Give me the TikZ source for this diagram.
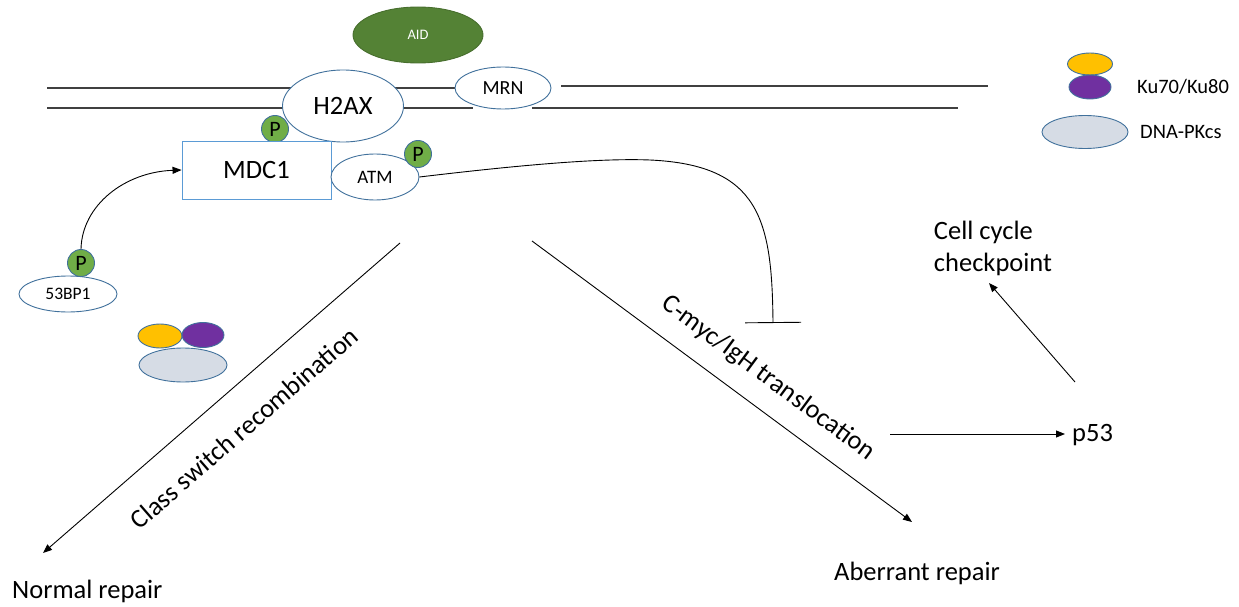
\documentclass[tikz,border=0pt]{standalone}
\usepackage{fontspec}
\setmainfont{Carlito}
\usetikzlibrary{arrows.meta,shapes.geometric}
\definecolor{olblue}{HTML}{41719C}
\definecolor{boxblue}{HTML}{5B9BD5}
\definecolor{aidgreen}{HTML}{548235}
\definecolor{pgreen}{HTML}{70AD47}
\definecolor{kuyellow}{HTML}{FFC000}
\definecolor{kupurple}{HTML}{7030A0}
\definecolor{pkgrey}{HTML}{D6DCE5}
\newcommand\fsz[1]{\fontsize{#1}{#1}\selectfont}
\tikzset{
  prot/.style={ellipse, draw=olblue, line width=0.9pt, fill=white, inner sep=0pt},
  phos/.style={circle, draw=olblue, line width=0.9pt, fill=pgreen, minimum size=27pt, inner sep=0pt, font=\fsz{22}},
  dna/.style={draw=black!75, line width=1.1pt},
  conn/.style={draw=black, line width=0.9pt},
  arr/.style={conn, -{Triangle[length=9pt,width=7pt]}},
  lbl/.style={inner sep=0pt, font=\fsz{26.5}},
}
\begin{document}
\begin{tikzpicture}[x=1pt,y=-1pt]
\useasboundingbox (0,0) rectangle (1239,607);
% DNA strands
\coordinate (u1) at (47,88);
\coordinate (u1e) at (455,88);
\coordinate (u2) at (561,86);
\coordinate (u3) at (988,86);
\coordinate (l1) at (47,108);
\coordinate (l2) at (473,108);
\coordinate (l3) at (532,108);
\coordinate (l4) at (958,108);
\path[dna] (u1) -- (u1e);
\path[dna] (u2) -- (u3);
\path[dna] (l1) -- (l2);
\path[dna] (l3) -- (l4);
\node[prot, minimum width=96pt, minimum height=42pt, font=\fsz{20}] (mrn) at (503,88) {MRN};
% AID
\node[ellipse, fill=aidgreen, draw=aidgreen!85!black, line width=0.9pt, inner sep=0pt,
      minimum width=130pt, minimum height=56pt, text=white, font=\fsz{14.5}] (aid) at (418,35) {AID};
% H2AX
\node[prot, minimum width=121pt, minimum height=72pt, font=\fsz{26.5}] (h2ax) at (343,106) {H2AX};
\node[phos] (ph) at (275,129) {P};
% MDC1
\node[draw=boxblue, line width=0.9pt, fill=white, minimum width=149pt, minimum height=58pt,
      inner sep=0pt, font=\fsz{26.5}] (mdc) at (256.5,170) {MDC1};
% ATM
\node[prot, minimum width=88pt, minimum height=46pt, font=\fsz{19}] (atm) at (375,177) {ATM};
\node[phos] (pa) at (418,154) {P};
% 53BP1
\node[prot, minimum width=98pt, minimum height=36pt, font=\fsz{17.5}] (bp) at (68,294) {53BP1};
\node[phos] (pb) at (81,263) {P};
% Ku complex
\node[prot, fill=pkgrey, minimum width=88pt, minimum height=34pt] (pk) at (183,365) {};
\node[prot, fill=kuyellow, minimum width=44pt, minimum height=24pt] (k70) at (160,336) {};
\node[prot, fill=kupurple, minimum width=42pt, minimum height=25pt] (k80) at (203,335) {};
% Legend
\node[prot, fill=kuyellow, minimum width=45pt, minimum height=22pt] (lk70) at (1090,64) {};
\node[prot, fill=kupurple, minimum width=42pt, minimum height=24pt] (lk80) at (1090,87) {};
\node[prot, fill=pkgrey, minimum width=86pt, minimum height=33pt] (lpk) at (1085,132) {};
\node[lbl, anchor=west, font=\fsz{20.5}] (lku) at (1137,87) {Ku70/Ku80};
\node[lbl, anchor=west, font=\fsz{20.5}] (lpkt) at (1140,132) {DNA-PKcs};
% 53BP1 -> MDC1
\draw[arr] (pb.north) .. controls (82,205) and (125,172) .. (mdc.west);
% ATM inhibition
\coordinate (inh) at (773,323);
\draw[conn, -{Bar[width=56pt]}] (atm.east) .. controls (520,165) and (600,158) .. (650,160)
   .. controls (760,165) and (772,220) .. (inh);
% Class switch recombination
\coordinate (cs1) at (400,243);
\coordinate (cs2) at (43,553);
\draw[arr] (cs1) -- (cs2);
\node[lbl, rotate=41] (cst) at (244,428) {Class switch recombination};
\node[lbl, anchor=base west] (nr) at (12,598) {Normal repair};
% Translocation
\coordinate (tr1) at (532,241);
\coordinate (tr2) at (912,522);
\draw[arr] (tr1) -- (tr2);
\node[lbl, rotate=-36.5] (trt) at (768,378) {C-myc/IgH translocation};
\node[lbl, anchor=base west] (ar) at (834,580) {Aberrant repair};
% p53
\node[lbl, anchor=base west] (p53) at (1072,441) {p53};
\coordinate (pa1) at (890,434);
\coordinate (pa2) at (1065,434);
\draw[arr] (pa1) -- (pa2);
% Cell cycle checkpoint
\node[lbl, align=left, font=\fontsize{26.5}{32}\selectfont] (ccc) at (993,248) {Cell cycle\\checkpoint};
\coordinate (cc1) at (1075,382);
\coordinate (cc2) at (989,283);
\draw[arr] (cc1) -- (cc2);
\end{tikzpicture}
\end{document}
